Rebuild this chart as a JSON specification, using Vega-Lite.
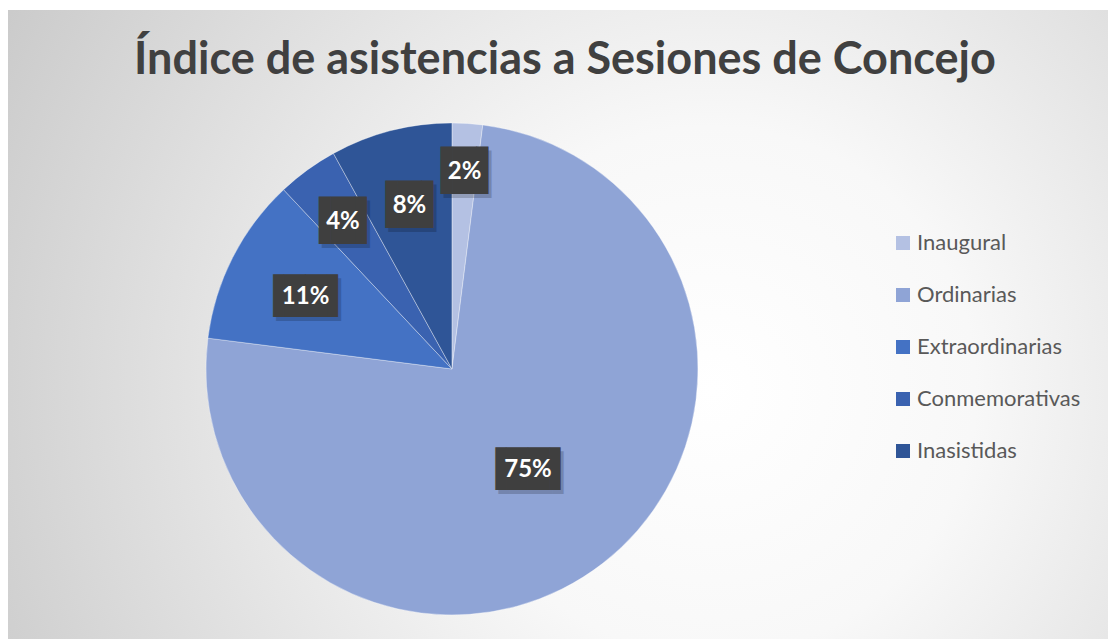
{
  "$schema": "https://vega.github.io/schema/vega-lite/v6.json",
  "width": 1108,
  "height": 639,
  "autosize": {"type": "fit", "contains": "padding"},
  "padding": {"left": 8, "top": 10, "right": 0, "bottom": 0},
  "background": "white",
  "title": {
    "text": "Índice de asistencias a Sesiones de Concejo",
    "font": "Lato",
    "fontSize": 45,
    "fontWeight": "bold",
    "color": "#404040",
    "anchor": "middle",
    "baseline": "alphabetic",
    "offset": -109,
    "dx": 7
  },
  "config": {"view": {"stroke": "#d0d0d0", "strokeWidth": 1}},
  "data": {
    "values": [
      {"idx": 1, "cat": "Inaugural", "share": 0.02},
      {"idx": 2, "cat": "Ordinarias", "share": 0.75},
      {"idx": 3, "cat": "Extraordinarias", "share": 0.11},
      {"idx": 4, "cat": "Conmemorativas", "share": 0.04},
      {"idx": 5, "cat": "Inasistidas", "share": 0.08}
    ]
  },
  "layer": [
    {
      "data": {"values": [{}]},
      "mark": {
        "type": "rect",
        "fill": {
          "gradient": "radial",
          "x1": 0.64, "y1": 0.56, "r1": 0,
          "x2": 0.64, "y2": 0.56, "r2": 0.8,
          "stops": [
            {"offset": 0, "color": "#ffffff"},
            {"offset": 0.3, "color": "#f8f8f8"},
            {"offset": 1, "color": "#c4c4c4"}
          ]
        }
      },
      "encoding": {}
    },
    {
      "mark": {
        "type": "arc",
        "outerRadius": 246,
        "x": {"expr": "width*0.4036"},
        "y": {"expr": "height*0.5707"},
        "stroke": "#ffffff",
        "strokeWidth": 0.7,
        "strokeOpacity": 0.5
      },
      "encoding": {
        "theta": {"field": "share", "type": "quantitative", "stack": true},
        "order": {"field": "idx", "type": "quantitative"},
        "color": {
          "field": "cat",
          "type": "nominal",
          "scale": {
            "domain": ["Inaugural", "Ordinarias", "Extraordinarias", "Conmemorativas", "Inasistidas"],
            "range": ["#b4c1e3", "#8fa4d6", "#4472c4", "#3a62b0", "#2f5597"]
          },
          "legend": {
            "orient": "none",
            "legendX": 884,
            "legendY": 222,
            "title": null,
            "labelFont": "Lato",
            "labelFontSize": 22,
            "labelColor": "#595959",
            "labelLimit": 400,
            "symbolType": "square",
            "symbolSize": 196,
            "symbolStrokeWidth": 0,
            "rowPadding": 30,
            "labelOffset": 3
          }
        }
      }
    },
    {
      "mark": {
        "type": "text",
        "x": {"expr": "width*0.4036"},
        "y": {"expr": "height*0.5707"},
        "font": "DejaVu Sans Mono",
        "align": "center",
        "baseline": "middle",
        "color": "#000000",
        "opacity": 0.18,
        "dx": 3,
        "dy": 7
      },
      "encoding": {
        "theta": {"field": "share", "type": "quantitative", "stack": true},
        "order": {"field": "idx", "type": "quantitative"},
        "radius": {"field": "share", "type": "quantitative", "scale": {"type": "log", "domain": [0.02, 0.75], "range": [200, 124], "zero": false}},
        "size": {"condition": {"test": "datum.share >= 0.1", "value": 36}, "value": 40},
        "text": {"condition": {"test": "datum.share >= 0.1", "value": "▐██▌"}, "value": "▐█▌"}
      }
    },
    {
      "mark": {
        "type": "text",
        "x": {"expr": "width*0.4036"},
        "y": {"expr": "height*0.5707"},
        "font": "DejaVu Sans Mono",
        "align": "center",
        "baseline": "middle",
        "color": "#3f3f3f",
        "dy": 3
      },
      "encoding": {
        "theta": {"field": "share", "type": "quantitative", "stack": true},
        "order": {"field": "idx", "type": "quantitative"},
        "radius": {"field": "share", "type": "quantitative", "scale": {"type": "log", "domain": [0.02, 0.75], "range": [200, 124], "zero": false}},
        "size": {"condition": {"test": "datum.share >= 0.1", "value": 36}, "value": 40},
        "text": {"condition": {"test": "datum.share >= 0.1", "value": "▐██▌"}, "value": "▐█▌"}
      }
    },
    {
      "mark": {
        "type": "text",
        "x": {"expr": "width*0.4036"},
        "y": {"expr": "height*0.5707"},
        "font": "Lato",
        "fontSize": 24,
        "fontWeight": "bold",
        "align": "center",
        "baseline": "middle",
        "color": "#ffffff",
        "dy": 3
      },
      "encoding": {
        "theta": {"field": "share", "type": "quantitative", "stack": true},
        "order": {"field": "idx", "type": "quantitative"},
        "radius": {"field": "share", "type": "quantitative", "scale": {"type": "log", "domain": [0.02, 0.75], "range": [200, 124], "zero": false}},
        "text": {"field": "share", "type": "quantitative", "format": ".0%"}
      }
    }
  ]
}
